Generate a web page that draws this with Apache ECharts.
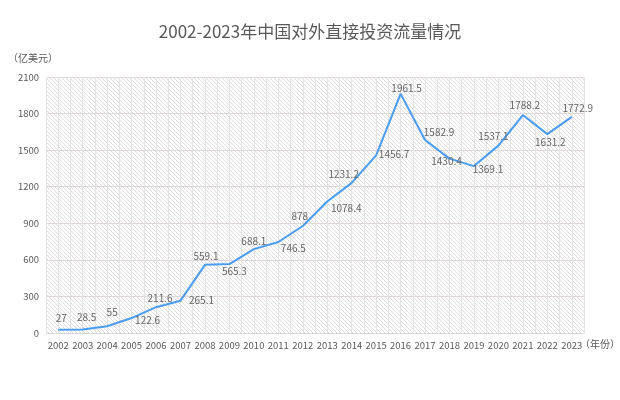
<!DOCTYPE html>
<html>
<head>
<meta charset="utf-8">
<script src="https://cdn.jsdelivr.net/npm/echarts@6/dist/echarts.min.js"></script>
<style>
  html, body { margin: 0; padding: 0; background: #fff; }
  #chart { width: 620px; height: 400px; }
</style>
</head>
<body>
<div id="chart"></div>
<script>
var years = ['2002', '2003', '2004', '2005', '2006', '2007', '2008', '2009', '2010', '2011', '2012',
             '2013', '2014', '2015', '2016', '2017', '2018', '2019', '2020', '2021', '2022', '2023'];
var flows = [27, 28.5, 55, 122.6, 211.6, 265.1, 559.1, 565.3, 688.1, 746.5, 878,
             1078.4, 1231.2, 1456.7, 1961.5, 1582.9, 1430.4, 1369.1, 1537.1, 1788.2, 1631.2, 1772.9];
var yTicks = [0, 300, 600, 900, 1200, 1500, 1800, 2100];

// label nudges (label centre relative to the point), so labels sit like the original
var labelNudge = [
    [3, -12], [4, -12], [5, -14], [16, 2], [4, -9], [21, 0], [1, -9], [5, 7],
    [0, -8], [15, 6], [-3, -10], [19, 7], [-8, -9], [18, -1], [6, -6], [14, -8],
    [-3, 3], [14, 3], [-5, -9], [2, -10], [3, 8], [6, -9]
];

var gray = '#595959';
var cjk = '"Noto Sans CJK SC", "Noto Sans", sans-serif';

//斜线底纹
function hatchPattern() {
    var c = document.createElement('canvas');
    c.width = 4;
    c.height = 4;
    var ctx = c.getContext('2d');
    ctx.fillStyle = '#ffffff';
    ctx.fillRect(0, 0, 4, 4);
    ctx.strokeStyle = '#dedede';
    ctx.lineWidth = 1;
    ctx.beginPath();
    ctx.moveTo(0, 0); ctx.lineTo(4, 4);
    ctx.moveTo(-1, 3); ctx.lineTo(1, 5);
    ctx.moveTo(3, -1); ctx.lineTo(5, 1);
    ctx.stroke();
    return c;
}

var chart = echarts.init(document.getElementById('chart'));

chart.setOption({
    animation: false,
    title: {
        text: '2002-2023年中国对外直接投资流量情况',
        left: 'center',
        top: 18,
        textStyle: { fontFamily: cjk, fontSize: 17, fontWeight: 'normal', color: gray }
    },
    grid: {
        left: 46,
        right: 36,
        top: 77,
        bottom: 67,
        outerBoundsMode: 'none',
        containLabel: false,
        show: true,
        borderWidth: 0,
        backgroundColor: { image: hatchPattern(), repeat: 'repeat' }
    },
    xAxis: [{
        type: 'category',
        data: years,
        boundaryGap: true,
        name: '（年份）',
        nameLocation: 'end',
        nameGap: 0,
        nameMoveOverlap: false,
        nameTextStyle: { fontFamily: cjk, fontSize: 10, color: gray, align: 'left', verticalAlign: 'top', padding: [6, 0, 0, -4] },
        axisLine: { lineStyle: { color: '#d9d9d9' } },
        axisTick: { show: false },
        axisLabel: { fontFamily: cjk, fontSize: 9.5, color: gray, margin: 8, interval: 0 },
        splitLine: { show: false }
    }, {
        type: 'value',
        min: 0,
        max: years.length * 2,
        interval: 1,
        axisLine: { show: false },
        axisTick: { show: false },
        axisLabel: { show: false },
        splitLine: { show: true, lineStyle: { color: '#e4e4e4', width: 1 } }
    }],
    yAxis: {
        type: 'value',
        min: 0,
        max: 2100,
        interval: 300,
        name: '（亿美元）',
        nameLocation: 'end',
        nameGap: 14,
        nameMoveOverlap: false,
        nameTextStyle: { fontFamily: cjk, fontSize: 10, color: gray, align: 'right', padding: [0, -12, 0, 0] },
        axisLine: { show: false },
        axisTick: { show: false },
        axisLabel: {
            fontFamily: cjk, fontSize: 9.5, color: gray, margin: 7,
            formatter: function (v) { return yTicks.indexOf(v) >= 0 ? v : ''; }
        },
        splitLine: { lineStyle: { color: '#e0d8d8', width: 1 } }
    },
    series: [{
        type: 'line',
        xAxisIndex: 0,
        data: flows.map(function (v, i) {
            return {
                value: v,
                label: { offset: labelNudge[i] }
            };
        }),
        symbol: 'circle',
        symbolSize: 1,
        showSymbol: true,
        itemStyle: { color: 'rgba(0,0,0,0)' },
        lineStyle: { color: '#4a9cf0', width: 2 },
        label: {
            show: true,
            position: 'inside',
            fontFamily: cjk,
            fontSize: 10,
            color: '#666666'
        },
        z: 5
    }]
});
</script>
</body>
</html>
